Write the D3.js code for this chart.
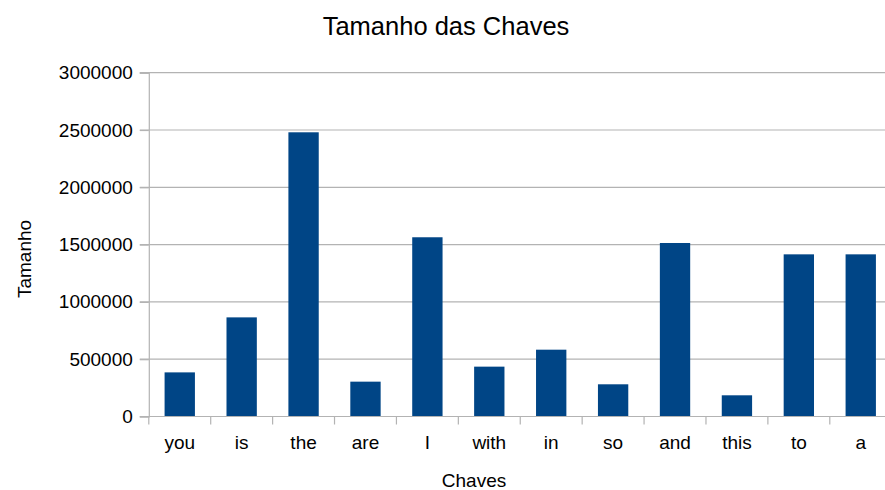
<!DOCTYPE html>
<html>
<head>
<meta charset="utf-8">
<script src="https://cdn.jsdelivr.net/npm/d3@7"></script>
<style>
  html, body { margin: 0; padding: 0; background: #fff; }
  svg { display: block; font-family: "Liberation Sans", Arial, sans-serif; }
</style>
</head>
<body>
<svg id="chart" width="885" height="490"></svg>
<script>
// Key names and their sizes
const chaves = ["you", "is", "the", "are", "I", "with", "in", "so", "and", "this", "to", "a"];
const tamanhos = [385000, 865000, 2480000, 304000, 1564000, 435000, 583000, 281000, 1514000, 185000, 1415000, 1415000];
const yTicks = [0, 500000, 1000000, 1500000, 2000000, 2500000, 3000000];

const titulo = "Tamanho das Chaves";
const tituloX = "Chaves";
const tituloY = "Tamanho";

const svg = d3.select("#chart");
const plotLeft = 148.8, plotRight = 891.7, plotTop = 72.7, plotBottom = 416.5;
const gridColor = "#b3b3b3";
const barColor = "#004586";
const labelSize = 19;

const x = d3.scaleBand().domain(chaves).range([plotLeft, plotRight]).paddingInner(0.51).paddingOuter(0.255);
const y = d3.scaleLinear().domain([0, 3000000]).range([plotBottom, plotTop]);

// horizontal gridlines
svg.append("g")
  .selectAll("line")
  .data(yTicks)
  .join("line")
  .attr("x1", plotLeft - 9).attr("x2", 885)
  .attr("y1", d => y(d)).attr("y2", d => y(d))
  .attr("stroke", gridColor).attr("stroke-width", 1.2);

// y axis
const yAxis = svg.append("g")
  .attr("transform", `translate(${plotLeft},0)`)
  .call(d3.axisLeft(y).tickValues(yTicks).tickFormat(d3.format("d")).tickSize(9).tickPadding(7));
yAxis.select(".domain").attr("stroke", gridColor).attr("stroke-width", 1.2);
yAxis.selectAll(".tick line").attr("stroke", gridColor).attr("stroke-width", 1.2);
yAxis.selectAll("text").attr("font-size", labelSize).attr("fill", "#000")
  .attr("font-family", "Liberation Sans, Arial, sans-serif");

// bars
svg.append("g")
  .selectAll("rect")
  .data(chaves)
  .join("rect")
  .attr("x", d => x(d))
  .attr("width", x.bandwidth())
  .attr("y", (d, i) => y(tamanhos[i]))
  .attr("height", (d, i) => y(0) - y(tamanhos[i]))
  .attr("fill", barColor);

// x axis: ticks on category boundaries, labels centred in each band
const step = x.step();
const boundaries = d3.range(chaves.length + 1).map(i => plotLeft + i * step);
const xg = svg.append("g");
xg.append("line")
  .attr("x1", plotLeft).attr("x2", 885)
  .attr("y1", plotBottom).attr("y2", plotBottom)
  .attr("stroke", gridColor).attr("stroke-width", 1.2);
xg.selectAll("line.tk")
  .data(boundaries)
  .join("line")
  .attr("class", "tk")
  .attr("x1", d => d).attr("x2", d => d)
  .attr("y1", plotBottom).attr("y2", plotBottom + 8)
  .attr("stroke", gridColor).attr("stroke-width", 1.2);
xg.selectAll("text")
  .data(chaves)
  .join("text")
  .attr("x", d => x(d) + x.bandwidth() / 2)
  .attr("y", 449)
  .attr("text-anchor", "middle")
  .attr("font-size", labelSize)
  .attr("fill", "#000")
  .text(d => d);

// titles
svg.append("text")
  .attr("x", 446).attr("y", 35)
  .attr("text-anchor", "middle")
  .attr("font-size", 25.5)
  .attr("fill", "#000")
  .text(titulo);

svg.append("text")
  .attr("x", 474).attr("y", 486.5)
  .attr("text-anchor", "middle")
  .attr("font-size", labelSize)
  .attr("fill", "#000")
  .text(tituloX);

svg.append("text")
  .attr("transform", "translate(31,259) rotate(-90)")
  .attr("text-anchor", "middle")
  .attr("font-size", labelSize)
  .attr("fill", "#000")
  .text(tituloY);
</script>
</body>
</html>
